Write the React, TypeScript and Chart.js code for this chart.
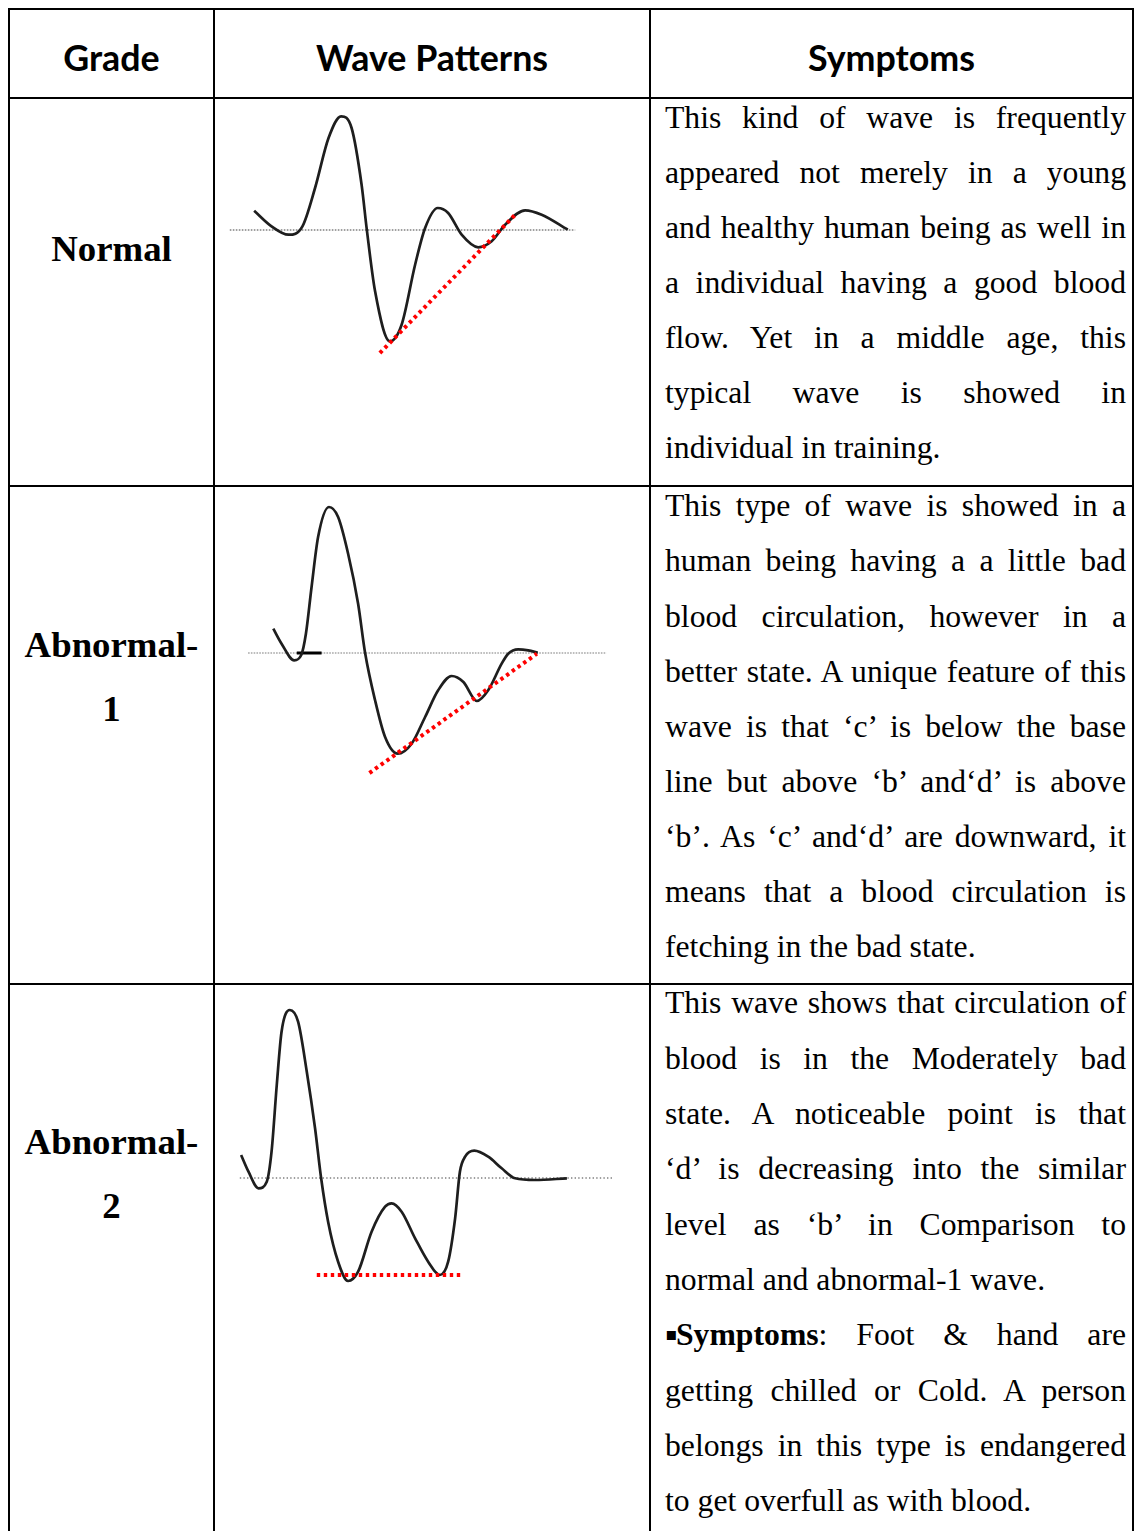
import React, { useEffect, useRef } from "react";
import { Chart, registerables } from "chart.js";

Chart.register(...registerables);

// ---------- data (time units across the cell, amplitude relative to baseline) ----------
const normalTime = [9.0, 13.0, 16.9, 20.1, 23.0, 26.1, 29.0, 31.4, 33.7, 34.9, 36.8, 40.2, 42.9, 46.0, 48.3, 51.2, 53.6, 56.7, 60.5, 63.6, 66.7, 71.3, 75.1, 81.1];
const normalAmp = [1.93, 0.37, -0.47, 0.37, 4.2, 9.2, 11.37, 10.2, 4.53, 0.03, -6.13, -11.13, -9.47, -3.47, 0.2, 2.2, 1.7, -0.47, -1.73, -1.13, 0.53, 1.97, 1.53, 0.03];
const normalBaseline = [3.4, 82.8];
const normalTrendTime = [37.9, 69.4];
const normalTrendAmp = [-12.3, 1.7];

const abn1Time = [13.4, 15.3, 18.2, 19.8, 20.9, 22.2, 23.7, 26.2, 28.3, 30.6, 32.9, 34.5, 36.8, 39.1, 42.0, 45.2, 48.3, 51.3, 54.4, 57.1, 60.2, 62.8, 65.9, 67.4, 69.7, 72.0, 74.2];
const abn1Amp = [2.43, 0.93, -0.73, -0.23, 1.93, 6.6, 11.6, 14.6, 13.6, 9.93, 4.93, 0.03, -4.73, -8.4, -10.07, -9.07, -6.4, -3.73, -2.3, -2.9, -4.8, -3.73, -1.07, -0.07, 0.37, 0.27, 0.03];
const abn1Baseline = [7.6, 90.0];
const abn1Marker = [18.8, 24.5];
const abn1TrendTime = [35.5, 74.0];
const abn1TrendAmp = [-12.0, -0.07];

const abn2Time = [6.0, 7.7, 10.0, 11.9, 13.0, 14.2, 15.3, 17.2, 19.1, 21.1, 23.0, 24.4, 26.0, 28.3, 30.6, 32.9, 36.0, 39.1, 40.6, 42.9, 46.0, 49.0, 51.7, 53.6, 55.2, 56.3, 57.5, 59.6, 62.8, 65.9, 69.0, 73.6, 80.9];
const abn2Amp = [2.3, 0.63, -1.03, -0.37, 2.63, 9.3, 14.63, 16.8, 15.63, 10.63, 4.97, -0.03, -4.37, -8.37, -10.3, -9.37, -5.37, -2.87, -2.53, -3.37, -6.03, -8.37, -9.7, -8.37, -4.03, 0.63, 2.13, 2.73, 2.13, 0.97, -0.03, -0.2, -0.03];
const abn2Baseline = [5.7, 91.6];
const abn2TrendTime = [23.4, 56.6];
const abn2TrendAmp = [-9.7, -9.7];

// ---------- text ----------
const headers = ["Grade", "Wave Patterns", "Symptoms"];
const grades = [["Normal"], ["Abnormal-", "1"], ["Abnormal-", "2"]];

type Part = { t: string; b?: boolean; bullet?: boolean };
type Line = { parts: Part[]; last?: boolean };
const L = (t: string, last = false): Line => ({ parts: [{ t }], last });

const symptoms1: Line[] = [
  L("This kind of wave is frequently"),
  L("appeared not merely in a young"),
  L("and healthy human being as well in"),
  L("a individual having a good blood"),
  L("flow. Yet in a middle age, this"),
  L("typical wave is showed in"),
  L("individual in training.", true),
];
const symptoms2: Line[] = [
  L("This type of wave is showed in a"),
  L("human being having a a little bad"),
  L("blood circulation, however in a"),
  L("better state. A unique feature of this"),
  L("wave is that \u2018c\u2019 is below the base"),
  L("line but above \u2018b\u2019 and\u2018d\u2019 is above"),
  L("\u2018b\u2019. As \u2018c\u2019 and\u2018d\u2019 are downward, it"),
  L("means that a blood circulation is"),
  L("fetching in the bad state.", true),
];
const symptoms3: Line[] = [
  L("This wave shows that circulation of"),
  L("blood is in the Moderately bad"),
  L("state. A noticeable point is that"),
  L("\u2018d\u2019 is decreasing into the similar"),
  L("level as \u2018b\u2019 in Comparison to"),
  L("normal and abnormal-1 wave.", true),
  { parts: [{ t: "\u25aa", bullet: true }, { t: "Symptoms", b: true }, { t: ": Foot & hand are" }] },
  L("getting chilled or Cold. A person"),
  L("belongs in this type is endangered"),
  L("to get overfull as with blood.", true),
];

type WaveProps = {
  time: number[];
  amp: number[];
  baseline: number[];
  trendTime: number[];
  trendAmp: number[];
  marker?: number[];
  yMin: number;
  yMax: number;
  width: number;
  height: number;
  left: number;
  top: number;
  baseColor: string;
  baseWidth: number;
  baseDash: number[];
};

function WaveChart(p: WaveProps) {
  const ref = useRef<HTMLCanvasElement | null>(null);
  useEffect(() => {
    if (!ref.current) return;
    const datasets: any[] = [
      {
        data: p.trendTime.map((x, i) => ({ x, y: p.trendAmp[i] })),
        borderColor: "#ff0000",
        borderWidth: 4,
        borderDash: [3.4, 3.6],
        pointRadius: 0,
        order: 0,
      },
      {
        data: p.time.map((x, i) => ({ x, y: p.amp[i] })),
        borderColor: "#1e1e1e",
        borderWidth: 2.7,
        cubicInterpolationMode: "monotone",
        pointRadius: 0,
        order: 1,
      },
      {
        data: p.baseline.map((x) => ({ x, y: 0 })),
        borderColor: p.baseColor,
        borderWidth: p.baseWidth,
        borderDash: p.baseDash,
        pointRadius: 0,
        order: 3,
      },
    ];
    if (p.marker) {
      datasets.push({
        data: p.marker.map((x) => ({ x, y: 0 })),
        borderColor: "#000",
        borderWidth: 3,
        pointRadius: 0,
        order: 2,
      });
    }
    const chart = new Chart(ref.current, {
      type: "line",
      data: { datasets },
      options: {
        animation: false,
        responsive: false,
        devicePixelRatio: 1,
        events: [],
        layout: { padding: 0 },
        plugins: { legend: { display: false }, tooltip: { enabled: false } },
        scales: {
          x: { type: "linear", display: false, min: 0, max: 100 },
          y: { type: "linear", display: false, min: p.yMin, max: p.yMax },
        },
      },
    });
    return () => chart.destroy();
  }, []);
  return (
    <canvas
      ref={ref}
      width={p.width}
      height={p.height}
      style={{ position: "absolute", left: p.left, top: p.top, width: p.width, height: p.height }}
    />
  );
}

const serif = "'Liberation Serif', 'Times New Roman', serif";

function SymptomBlock({ lines, top, lh }: { lines: Line[]; top: number; lh: number }) {
  return (
    <div
      style={{
        position: "absolute",
        left: 665,
        top,
        width: 461,
        fontFamily: serif,
        fontSize: "31.7px",
        lineHeight: lh + "px",
        color: "#000",
      }}
    >
      {lines.map((ln, i) => (
        <div
          key={i}
          style={{
            textAlign: ln.last ? "left" : "justify",
            textAlignLast: ln.last ? "left" : "justify",
            height: lh + "px",
          } as any}
        >
          {ln.parts.map((pt, j) =>
            pt.bullet ? (
              <span
                key={j}
                style={{
                  display: "inline-block",
                  width: 11,
                  fontFamily: "'DejaVu Sans', sans-serif",
                  fontSize: "18px",
                  overflow: "visible",
                  textAlign: "left",
                  position: "relative",
                  top: -5,
                  marginLeft: 0,
                }}
              >
                {pt.t}
              </span>
            ) : (
              <span key={j} style={{ fontWeight: pt.b ? "bold" : "normal" }}>
                {pt.t}
              </span>
            )
          )}
        </div>
      ))}
    </div>
  );
}

function GradeLabel({ lines, top }: { lines: string[]; top: number }) {
  return (
    <div
      style={{
        position: "absolute",
        left: 10,
        width: 203,
        top,
        textAlign: "center",
        fontFamily: serif,
        fontWeight: "bold",
        fontSize: "36.8px",
        lineHeight: "64.4px",
        color: "#000",
      }}
    >
      {lines.map((l, i) => (
        <div key={i}>{l}</div>
      ))}
    </div>
  );
}

export default function App() {
  const hLines = [8, 97, 485, 983];
  const vLines = [8, 213, 649, 1132];
  const headerCols = [
    [10, 203],
    [215, 434],
    [651, 481],
  ];
  return (
    <div
      style={{
        position: "absolute",
        left: 0,
        top: 0,
        width: 1134,
        height: 1531,
        overflow: "hidden",
        background: "#fff",
      }}
    >
      <WaveChart time={normalTime} amp={normalAmp} baseline={normalBaseline} trendTime={normalTrendTime} trendAmp={normalTrendAmp}
        yMin={-25.6} yMax={13.1} width={435} height={387} left={215} top={99}
        baseColor="#a0a0a0" baseWidth={1.8} baseDash={[1.6, 1.4]} />
      <WaveChart time={abn1Time} amp={abn1Amp} baseline={abn1Baseline} marker={abn1Marker} trendTime={abn1TrendTime} trendAmp={abn1TrendAmp}
        yMin={-33.1} yMax={16.6} width={435} height={497} left={215} top={487}
        baseColor="#bdbdbd" baseWidth={2.2} baseDash={[1.6, 1.2]} />
      <WaveChart time={abn2Time} amp={abn2Amp} baseline={abn2Baseline} trendTime={abn2TrendTime} trendAmp={abn2TrendAmp}
        yMin={-35.3} yMax={19.3} width={435} height={546} left={215} top={985}
        baseColor="#808080" baseWidth={1.4} baseDash={[1.4, 2.2]} />

      {hLines.map((y, i) => (
        <div key={"h" + i} style={{ position: "absolute", left: 8, top: y, width: 1126, height: 2, background: "#000", zIndex: 2 }} />
      ))}
      {vLines.map((x, i) => (
        <div key={"v" + i} style={{ position: "absolute", left: x, top: 8, width: 2, height: 1523, background: "#000", zIndex: 2 }} />
      ))}

      {headers.map((h, i) => (
        <div
          key={h}
          style={{
            position: "absolute",
            left: headerCols[i][0],
            width: headerCols[i][1],
            top: 36,
            textAlign: "center",
            fontFamily: "Lato, 'Open Sans', sans-serif",
            fontWeight: "bold",
            fontSize: "35.8px",
            lineHeight: "43px",
            color: "#000",
          }}
        >
          {h}
        </div>
      ))}

      <GradeLabel lines={grades[0]} top={217.4} />
      <GradeLabel lines={grades[1]} top={612.7} />
      <GradeLabel lines={grades[2]} top={1109.7} />

      <SymptomBlock lines={symptoms1} top={90.4} lh={55} />
      <SymptomBlock lines={symptoms2} top={478.4} lh={55.1} />
      <SymptomBlock lines={symptoms3} top={975.4} lh={55.33} />
    </div>
  );
}
